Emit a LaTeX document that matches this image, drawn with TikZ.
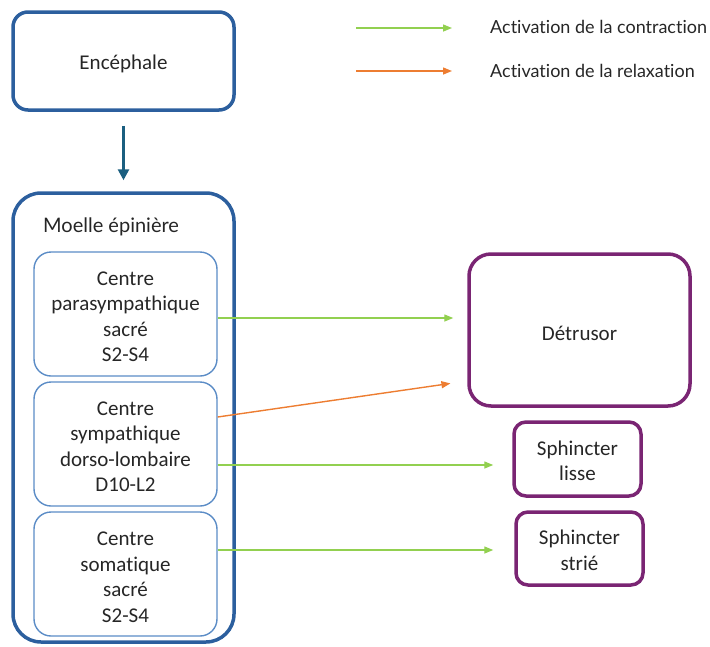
\documentclass[tikz,border=0pt]{standalone}
\usepackage{fontspec}
\setmainfont{Carlito}[Ligatures=NoCommon]
\newfontfamily\latofont{Lato}[Ligatures=NoCommon]
\usetikzlibrary{arrows.meta}
\definecolor{outerblue}{HTML}{2C5F9E}
\definecolor{innerblue}{HTML}{5B8CC6}
\definecolor{tealarrow}{HTML}{1B5F80}
\definecolor{purplebox}{HTML}{7A2573}
\definecolor{greenarrow}{HTML}{92D050}
\definecolor{orangearrow}{HTML}{ED7D31}
\definecolor{txt}{HTML}{262626}
\begin{document}
\begin{tikzpicture}[x=1pt,y=-1pt,
  boxtext/.style={font=\fontsize{21}{25.5}\selectfont, align=center, text=txt, inner sep=0pt},
  outerbox/.style={draw=outerblue, line width=3.5pt, inner sep=0pt},
  innerbox/.style={draw=innerblue, line width=1.4pt, rounded corners=17pt, inner sep=0pt,
    minimum width=183pt, minimum height=124pt},
  organbox/.style={draw=purplebox, line width=3.5pt, inner sep=0pt},
  legtext/.style={font=\latofont\fontsize{18}{22}\selectfont, text=txt, inner sep=0pt, anchor=base west},
  contr/.style={draw=greenarrow, line width=1.4pt, -{Triangle[length=9pt,width=7pt]}},
  relax/.style={draw=orangearrow, line width=1.4pt, -{Triangle[length=9pt,width=7pt]}},
  mainarrow/.style={draw=tealarrow, line width=3pt, -{Triangle[length=11pt,width=11pt]}}
]
\useasboundingbox (0,0) rectangle (710,646);

% Encephale and spinal cord
\node[outerbox, rounded corners=15pt, minimum width=221pt, minimum height=98pt] (enc) at (123.5,61) {};
\node[boxtext] (enctxt) at ([yshift=-3pt]enc.center) {Encéphale};
\node[outerbox, rounded corners=28pt, minimum width=221pt, minimum height=449pt] (moelle) at (123.5,417.5) {};
\node[legtext, font=\latofont\fontsize{20}{24}\selectfont] (moellelbl) at (43,232) {Moelle épinière};

\node[innerbox] (c1) at (125.5,314) {};
\node[boxtext] (c1txt) at ([yshift=-3pt]c1.center) {Centre\\parasympathique\\sacré\\S2-S4};
\node[innerbox] (c2) at (125.5,444) {};
\node[boxtext] (c2txt) at ([yshift=-3pt]c2.center) {Centre\\sympathique\\dorso-lombaire\\D10-L2};
\node[innerbox] (c3) at (125.5,574) {};
\node[boxtext] (c3txt) at ([yshift=-3pt]c3.center) {Centre\\somatique\\sacré\\S2-S4};

% Organs
\node[organbox, rounded corners=22pt, minimum width=221pt, minimum height=152pt] (det) at (579.5,330) {};
\node[boxtext] (dettxt) at ([yshift=-3pt]det.center) {Détrusor};
\node[organbox, rounded corners=12pt, minimum width=127pt, minimum height=74pt] (sl) at (577.5,459) {};
\node[boxtext] (sltxt) at ([yshift=-2pt]sl.center) {Sphincter\\lisse};
\node[organbox, rounded corners=12pt, minimum width=127pt, minimum height=73pt] (ss) at (579.5,548.5) {};
\node[boxtext] (sstxt) at ([yshift=-2pt]ss.center) {Sphincter\\strié};

% main arrow
\draw[mainarrow, shorten <=14pt, shorten >=11pt] (enc.south) -- (moelle.north);

% connectors
\coordinate (a1) at ([yshift=-4pt]c1.east);
\draw[contr, shorten >=14pt] (a1) -- (a1 -| det.west);

\coordinate (o1) at ([yshift=27pt]c2.east);
\coordinate (o2) at ([yshift=-51pt]det.west);
\draw[relax, shorten >=17pt] (o1) -- (o2);

\coordinate (a2) at ([yshift=-21pt]c2.east);
\draw[contr, shorten >=19pt] (a2) -- (a2 -| sl.west);

\coordinate (a3) at ([yshift=24pt]c3.east);
\draw[contr, shorten >=21pt] (a3) -- (a3 -| ss.west);

% legend
\node[legtext] (l1) at (490,33) {Activation de la contraction};
\node[legtext] (l2) at (490,77) {Activation de la relaxation};
\coordinate (g1) at (356,28);
\coordinate (g2) at (452,28);
\coordinate (r1) at (356,71);
\coordinate (r2) at (452,71);
\draw[contr] (g1) -- (g2);
\draw[relax] (r1) -- (r2);
\end{tikzpicture}
\end{document}
